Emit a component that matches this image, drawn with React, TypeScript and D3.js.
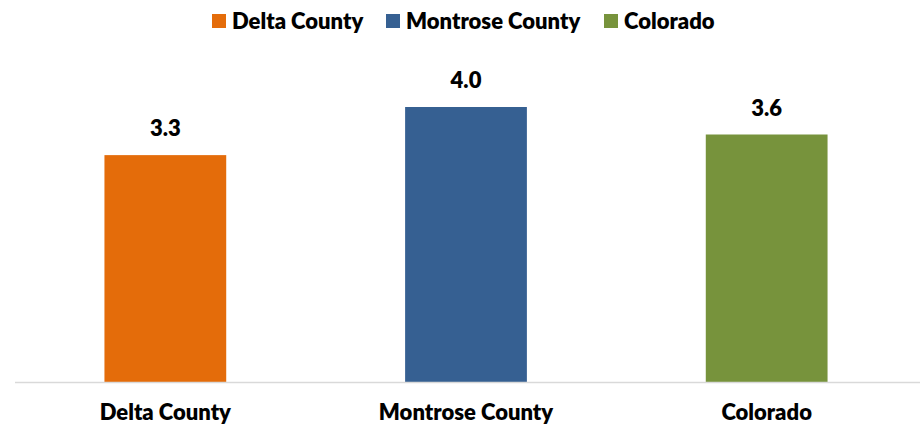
import React from "react";
import * as d3 from "d3";

const categories = ["Delta County", "Montrose County", "Colorado"];
const values = [3.3, 4.0, 3.6];
const colors = ["#E46C0A", "#366092", "#77933C"];
const yDomain = [0, 5];

const W = 920;
const H = 424;
const FONT = "Lato, 'Open Sans', sans-serif";

export default function App() {
  const x = d3.scaleBand<string>().domain(categories).range([15, 917]).paddingInner(0.595).paddingOuter(0.2975);
  const y = d3.scaleLinear().domain(yDomain).range([382, 38.25]);
  const legendX = [212, 386, 604];
  return (
    <svg width={W} height={H} style={{ position: "absolute", left: 0, top: 0 }} fontFamily={FONT}>
      <rect width={W} height={H} fill="#fff" />
      {categories.map((c, i) => (
        <g key={"lg" + i}>
          <rect x={legendX[i]} y={14} width={14} height={14} fill={colors[i]} />
          <text x={legendX[i] + 20} y={29} fontSize={22} fontWeight={800} fill="#000">{c}</text>
        </g>
      ))}
      {categories.map((c, i) => (
        <g key={"b" + i}>
          <rect x={x(c)} y={y(values[i])} width={x.bandwidth()} height={y(0) - y(values[i])} fill={colors[i]} />
          <text x={(x(c) as number) + x.bandwidth() / 2} y={y(values[i]) - 19} textAnchor="middle" fontSize={22} fontWeight={800} fill="#000">
            {d3.format(".1f")(values[i])}
          </text>
          <text x={(x(c) as number) + x.bandwidth() / 2} y={419.5} textAnchor="middle" fontSize={22} fontWeight={800} fill="#000">{c}</text>
        </g>
      ))}
      <line x1={15} x2={920} y1={382.5} y2={382.5} stroke="#D9D9D9" strokeWidth={1.5} />
    </svg>
  );
}
